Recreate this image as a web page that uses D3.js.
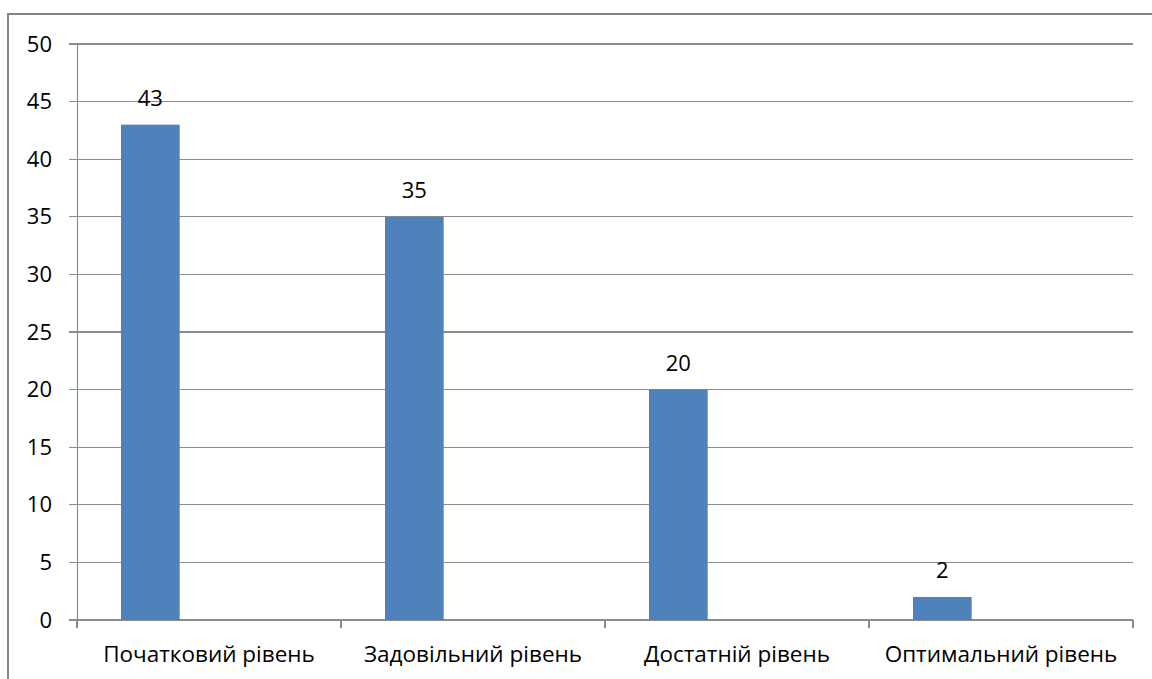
<!DOCTYPE html>
<html>
<head>
<meta charset="utf-8">
<script src="https://cdn.jsdelivr.net/npm/d3@7"></script>
<style>
  html, body { margin: 0; padding: 0; background: #fff; }
  svg { display: block; }
  text { font-family: "Open Sans", "Noto Sans", sans-serif; fill: #000; }
</style>
</head>
<body>
<svg id="chart" width="1152" height="679"></svg>
<script>
// Levels and their shares
const categories = ["Початковий рівень", "Задовільний рівень", "Достатній рівень", "Оптимальний рівень"];
const values = [43, 35, 20, 2];
const yTicks = [0, 5, 10, 15, 20, 25, 30, 35, 40, 45, 50];

const svg = d3.select("#chart");
const W = 1152, H = 679;
const plot = { left: 77, right: 1133, top: 44, bottom: 620 };

// Outer frame
svg.append("rect")
  .attr("x", 8).attr("y", 14)
  .attr("width", W).attr("height", H)
  .attr("fill", "#fff")
  .attr("stroke", "#858585").attr("stroke-width", 2);

const x = d3.scaleBand().domain(categories).range([plot.left, plot.right]);
const y = d3.scaleLinear().domain([0, 50]).range([plot.bottom, plot.top]);

// Each category slot holds three bar widths plus a 150% gap; only the first slot is filled
const barW = x.bandwidth() / 4.5;
const barOffset = barW * 0.75;

// Horizontal gridlines
svg.append("g")
  .selectAll("line")
  .data(yTicks)
  .join("line")
  .attr("x1", plot.left - 8).attr("x2", plot.right)
  .attr("y1", d => y(d)).attr("y2", d => y(d))
  .attr("stroke", "#8c8c8c").attr("stroke-width", 1.2)
  .attr("shape-rendering", "crispEdges");

// Y axis
const yAxis = svg.append("g")
  .attr("transform", `translate(${plot.left},0)`)
  .call(d3.axisLeft(y).tickValues(yTicks).tickSize(0).tickPadding(25));
yAxis.select(".domain").attr("stroke", "#8c8c8c").attr("stroke-width", 1.2);
yAxis.selectAll("text")
  .style("font-size", "22px").attr("fill", "#000");

// X axis
const xAxis = svg.append("g")
  .attr("transform", `translate(0,${plot.bottom})`)
  .call(d3.axisBottom(x).tickSize(0).tickPadding(26));
xAxis.select(".domain").attr("stroke", "#8c8c8c").attr("stroke-width", 1.2);
xAxis.selectAll("text")
  .style("font-size", "22.5px").attr("fill", "#000");

// Category separators
svg.append("g")
  .selectAll("line")
  .data(categories.map(c => x(c)).concat([plot.right]))
  .join("line")
  .attr("x1", d => d).attr("x2", d => d)
  .attr("y1", plot.bottom).attr("y2", plot.bottom + 8)
  .attr("stroke", "#8c8c8c").attr("stroke-width", 1.2)
  .attr("shape-rendering", "crispEdges");

// Bars
svg.append("g")
  .selectAll("rect")
  .data(values)
  .join("rect")
  .attr("x", (d, i) => x(categories[i]) + barOffset)
  .attr("y", d => y(d))
  .attr("width", barW)
  .attr("height", d => y(0) - y(d))
  .attr("fill", "#4f81bd");

// Value labels
svg.append("g")
  .selectAll("text")
  .data(values)
  .join("text")
  .attr("x", (d, i) => x(categories[i]) + barOffset + barW / 2)
  .attr("y", d => y(d) - 19)
  .attr("text-anchor", "middle")
  .style("font-size", "22px")
  .text(d => d);
</script>
</body>
</html>
